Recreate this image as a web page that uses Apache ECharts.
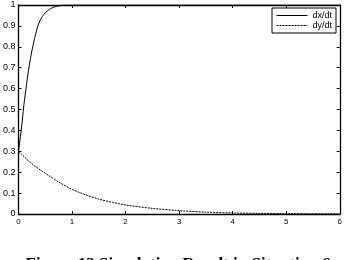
<!DOCTYPE html>
<html>
<head>
<meta charset="utf-8">
<script src="https://cdn.jsdelivr.net/npm/echarts@6/dist/echarts.min.js"></script>
<style>html,body{margin:0;padding:0;background:#fff}#c{width:345px;height:260px}</style>
</head>
<body>
<div id="c"></div>
<script>
var titleText = 'Figure 12 Simulation Result in Situation 6';
var seriesNames = ['dx/dt', 'dy/dt'];
var dxTime  = [0, 0.05, 0.1, 0.15, 0.2, 0.25, 0.3, 0.35, 0.4, 0.5, 0.6, 0.7, 0.8, 0.9, 1, 2, 3, 4, 5, 6];
var dxValue = [0.30, 0.40, 0.52, 0.62, 0.71, 0.78, 0.84, 0.89, 0.925, 0.963, 0.983, 0.993, 0.998, 1, 1, 1, 1, 1, 1, 1];
var dyTime  = [0, 0.25, 0.5, 0.75, 1, 1.25, 1.5, 1.75, 2, 2.5, 3, 3.5, 4, 4.5, 5, 5.5, 6];
var dyValue = [0.30, 0.24, 0.195, 0.153, 0.118, 0.092, 0.071, 0.056, 0.043, 0.027, 0.016, 0.009, 0.005, 0.003, 0.002, 0.001, 0.001];
var xTicks = [0, 1, 2, 3, 4, 5, 6];
var yTicks = [0, 0.1, 0.2, 0.3, 0.4, 0.5, 0.6, 0.7, 0.8, 0.9, 1];

function pairs(xs, ys) { return xs.map(function (x, i) { return [x, ys[i]]; }); }

var chart = echarts.init(document.getElementById('c'), null, {renderer: 'canvas'});
function axisFont(size) { return {fontFamily: 'Liberation Sans, Arial, sans-serif', fontSize: size, color: '#000'}; }
function xAxis(pos, showLabel) {
  return {
    type: 'value', position: pos, min: xTicks[0], max: xTicks[xTicks.length - 1], interval: 1,
    axisLine: {show: true, onZero: false, lineStyle: {color: '#000', width: 1.3}},
    axisTick: {show: true, inside: true, length: 3, lineStyle: {color: '#000'}},
    axisLabel: Object.assign({show: showLabel, margin: 4}, axisFont(8)),
    splitLine: {show: false}
  };
}
function yAxis(pos, showLabel) {
  return {
    type: 'value', position: pos, min: yTicks[0], max: yTicks[yTicks.length - 1], interval: 0.1,
    axisLine: {show: true, onZero: false, lineStyle: {color: '#000', width: 1.3}},
    axisTick: {show: true, inside: true, length: 3, lineStyle: {color: '#000'}},
    axisLabel: Object.assign({show: showLabel, margin: 3, formatter: function (v) { return String(+v.toFixed(1)); }}, axisFont(9)),
    splitLine: {show: false}
  };
}
chart.setOption({
  animation: false,
  backgroundColor: '#fff',
  graphic: [{
    type: 'text', x: 178, y: 256,
    style: {
      text: titleText, align: 'center', verticalAlign: 'top',
      font: 'bold 17px "Liberation Serif", "Times New Roman", serif', fill: '#000'
    }
  }],
  grid: {left: 15, right: 4, top: 5, bottom: 46},
  legend: {
    orient: 'vertical', left: 272, top: 8,
    data: seriesNames,
    backgroundColor: '#fff', borderColor: '#000', borderWidth: 1,
    padding: [3, 4, 3, 4], itemGap: 1, itemWidth: 31, itemHeight: 9,
    itemStyle: {color: 'transparent', borderWidth: 0, opacity: 0},
    lineStyle: {width: 1},
    textStyle: {fontFamily: 'Liberation Sans, Arial, sans-serif', fontSize: 9, color: '#000'}
  },
  xAxis: [xAxis('bottom', true), xAxis('top', false)],
  yAxis: [yAxis('left', true), yAxis('right', false)],
  series: [
    {name: seriesNames[0], type: 'line', data: pairs(dxTime, dxValue), smooth: 0.3, showSymbol: false, symbol: 'none',
     lineStyle: {color: '#000', width: 1}, itemStyle: {color: '#000'}},
    {name: seriesNames[1], type: 'line', data: pairs(dyTime, dyValue), smooth: 0.3, showSymbol: false, symbol: 'none',
     lineStyle: {color: '#000', width: 1, type: [2, 1]}, itemStyle: {color: '#000'}}
  ]
});
</script>
</body>
</html>
